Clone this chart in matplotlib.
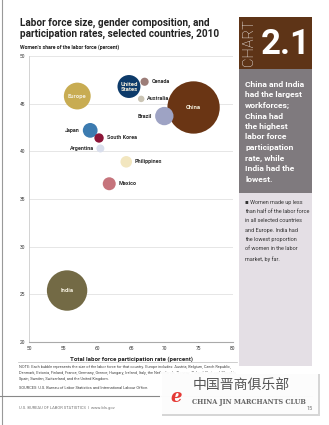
import matplotlib
matplotlib.use("Agg")
import matplotlib.pyplot as plt
from matplotlib.patches import Rectangle

countries = ["Europe", "United States", "Canada", "Australia", "China", "Brazil",
             "Japan", "South Korea", "Argentina", "Philippines", "Mexico", "India"]
participation = [57.1, 64.7, 67.0, 66.5, 74.2, 69.9, 59.0, 60.3, 60.5, 64.3, 61.8, 55.6]
women_share = [45.8, 46.8, 47.3, 45.5, 44.6, 43.7, 42.2, 41.4, 40.3, 38.9, 36.6, 25.4]
labor_force = [205, 150, 19, 12, 780, 96, 62, 25, 18, 38, 48, 465]  # millions
colors = ["#C8AC52", "#0D3B6A", "#9C7D78", "#CBC5B5", "#6A3514", "#9EA3C4",
          "#3C7BB0", "#8D1538", "#D9DEEC", "#F2E6BF", "#C6747C", "#736A45"]
x_ticks = [50, 55, 60, 65, 70, 75, 80]
y_ticks = [20, 25, 30, 35, 40, 45, 50]

W, H = 329, 425
plt.rcParams["font.family"] = ["Roboto", "DejaVu Sans"]


def fx(px):
    return px / W


def fy(py):
    return 1 - py / H


def box(fig, x0, y0, x1, y1, color, **kw):
    fig.add_artist(Rectangle((fx(x0), fy(y1)), fx(x1) - fx(x0), fy(y0) - fy(y1),
                             transform=fig.transFigure, color=color, lw=0, **kw))


fig = plt.figure(figsize=(W / 100, H / 100), dpi=100)
fig.patch.set_facecolor("white")

# page decorations
fig.add_artist(plt.Line2D([fx(2), fx(2)], [0, 1], color="#999999", lw=0.8))
fig.add_artist(plt.Line2D([0, fx(312)], [fy(396), fy(396)], color="#888888", lw=0.8))
fig.add_artist(plt.Line2D([fx(18), fx(237)], [fy(362), fy(362)], color="#bbbbbb", lw=0.5))

# side panel
box(fig, 239, 17, 312, 69, "#5E3417")
box(fig, 239, 69, 312, 193, "#7F7A7E")
box(fig, 239, 193, 312, 366, "#E4DFE5")
fig.text(fx(249.5), fy(43), "CHART", rotation=90, fontsize=10.5, fontweight="light",
         color="white", ha="center", va="center")
fig.text(fx(285.5), fy(44.5), "2.1", fontsize=25, fontweight="bold",
         color="white", ha="center", va="center")

panel_head = ("China and India\nhad the largest\nworkforces;\nChina had\nthe highest\n"
              "labor force\nparticipation\nrate, while\nIndia had the\nlowest.")
fig.text(fx(245), fy(81), panel_head, color="white", fontsize=6.1, fontweight="bold",
         va="top", ha="left", linespacing=1.58)
panel_note = ("\u25aa Women made up less\nthan half of the labor force\nin all selected countries\n"
              "and Europe. India had\nthe lowest proportion\nof women in the labor\nmarket, by far.")
fig.text(fx(245), fy(200), panel_note, color="#333333", fontsize=4.0,
         va="top", ha="left", linespacing=2.05)

# titles
fig.text(fx(20), fy(18), "Labor force size, gender composition, and\nparticipation rates, selected countries, 2010",
         fontsize=7.2, fontweight="bold", color="#222222", va="top", ha="left", linespacing=1.1)
fig.text(fx(20), fy(47), "Women's share of the labor force (percent)", fontsize=3.8,
         fontweight="bold", color="#222222", va="center", ha="left")

# chart
ax = fig.add_axes([fx(29), fy(342), fx(233) - fx(29), fy(56) - fy(342)])
ax.set_xlim(50, 80)
ax.set_ylim(20, 50)
ax.set_xticks(x_ticks)
ax.set_yticks(y_ticks)
ax.tick_params(labelsize=3.5, length=0, pad=3, colors="#333333")
ax.grid(axis="y", color="#e2e2e2", lw=0.6)
ax.set_axisbelow(True)
for side in ["top", "right"]:
    ax.spines[side].set_visible(False)
ax.spines["left"].set_color("#cccccc")
ax.spines["bottom"].set_color("#aaaaaa")
ax.spines["left"].set_linewidth(0.6)
ax.spines["bottom"].set_linewidth(0.8)

sizes = [v * 1.82 for v in labor_force]
ax.scatter(participation, women_share, s=sizes, c=colors, edgecolors="none", zorder=3)

inside = {"Europe": "Europe", "United States": "United\nStates", "China": "China", "India": "India"}
left = ["Brazil", "Japan", "Argentina"]
for name, xv, yv, lf in zip(countries, participation, women_share, labor_force):
    if name in inside:
        ax.text(xv, yv, inside[name], ha="center", va="center", fontsize=4.2,
                fontweight="bold", color="#F3EEDC", zorder=4, linespacing=1.0)
    else:
        r = (lf * 1.82) ** 0.5 / 2 + 2
        dx = -r if name in left else r
        ax.annotate(name, (xv, yv), xytext=(dx, 0), textcoords="offset points",
                    ha="right" if name in left else "left", va="center",
                    fontsize=4.0, fontweight="bold", color="#333333", zorder=4)

ax.set_xlabel("Total labor force participation rate (percent)", fontsize=4.4,
              fontweight="bold", color="#222222", labelpad=4)

# notes
note = ("NOTE: Each bubble represents the size of the labor force for that country. Europe includes: Austria, Belgium, Czech Republic,\n"
        "Denmark, Estonia, Finland, France, Germany, Greece, Hungary, Ireland, Italy, the Netherlands, Norway, Poland, Portugal, Slovakia,\n"
        "Spain, Sweden, Switzerland, and the United Kingdom.")
fig.text(fx(19), fy(365), note, fontsize=2.8, color="#444444", va="top", ha="left", linespacing=1.6)
fig.text(fx(19), fy(388), "SOURCES: U.S. Bureau of Labor Statistics and International Labour Office.",
         fontsize=2.9, color="#444444", va="center", ha="left")
fig.text(fx(19), fy(408), "U.S. BUREAU OF LABOR STATISTICS  |  www.bls.gov", fontsize=3.0,
         color="#777777", va="center", ha="left")

# watermark
box(fig, 162, 374, 320, 416, "#bbbbbb", alpha=0.6, zorder=5)
box(fig, 160, 372, 318, 414, "white", alpha=0.95, zorder=5)
fig.text(fx(176), fy(397), "e", fontsize=13, color="#E53935", style="italic",
         fontweight="bold", ha="center", va="center", family=["DejaVu Serif"], zorder=6)
fig.text(fx(193), fy(385), "中国晋商俱乐部", fontsize=10, color="#555555", ha="left", va="center",
         family=["Noto Sans CJK SC", "DejaVu Sans"], zorder=6)
fig.text(fx(192), fy(402), "CHINA JIN MARCHANTS CLUB", fontsize=4.7, color="#666666",
         fontweight="bold", ha="left", va="center", family=["DejaVu Serif"], zorder=6)
fig.text(fx(313), fy(409), "15", fontsize=4, color="#777777", ha="right", va="center", zorder=6)

fig.savefig("out.png", dpi=100)
